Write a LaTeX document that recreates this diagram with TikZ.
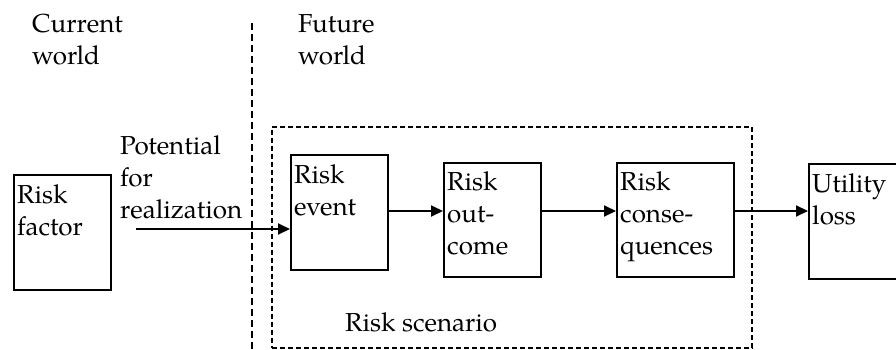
\documentclass[tikz,border=0pt]{standalone}
\usepackage{fontspec}
\setmainfont{TeX Gyre Pagella}
\usetikzlibrary{arrows.meta}

\begin{document}
\begin{tikzpicture}[x=1pt,y=1pt,
  txt/.style={inner sep=0pt, align=left, font=\fontsize{26}{32}\selectfont},
  stagebox/.style={draw, line width=2pt, inner sep=0pt},
  arr/.style={line width=1.9pt, -{Triangle[length=12pt,width=11pt]}},
  scen/.style={draw, line width=1.8pt, dash pattern=on 5pt off 3pt, inner sep=0pt},
  divider/.style={line width=1.3pt, dash pattern=on 7pt off 4pt}]
\useasboundingbox (0,0) rectangle (896,-350);
\clip (0,0) rectangle (896,-350);

% worlds and divider (base anchor = baseline of the last line)
\node[txt, anchor=base west] (cur) at (32,-65) {Current\\world};
\node[txt, anchor=base west] (fut) at (298,-65) {Future\\world};
\coordinate (vtop) at (252,-23);
\coordinate (vbot) at (252,-352);
\draw[divider] (vtop) -- (vbot);

% risk scenario frame
\node[scen, minimum width=480pt, minimum height=221pt, anchor=north west] (scenario) at (271,-126) {};
\node[txt, anchor=base west] (scenlbl) at (345,-331) {Risk scenario};

% stage boxes
\node[stagebox, minimum width=97pt, minimum height=115pt, anchor=north west] (factor) at (13,-174) {};
\node[stagebox, minimum width=97pt, minimum height=115pt, anchor=north west] (event) at (290,-154) {};
\node[stagebox, minimum width=97pt, minimum height=114pt, anchor=north west] (outcome) at (443,-162) {};
\node[stagebox, minimum width=117pt, minimum height=114pt, anchor=north west] (conseq) at (616,-162) {};
\node[stagebox, minimum width=95pt, minimum height=115pt, anchor=north west] (utility) at (808,-163) {};

% box texts, placed by the baseline of their last line
\node[txt, anchor=base west] (tfactor) at ([xshift=4pt,yshift=-61pt]factor.north west) {Risk\\factor};
\node[txt, anchor=base west] (tevent) at ([xshift=4pt,yshift=-61pt]event.north west) {Risk\\event};
\node[txt, anchor=base west] (toutcome) at ([xshift=4pt,yshift=-92pt]outcome.north west) {Risk\\out-\\come};
\node[txt, anchor=base west] (tconseq) at ([xshift=4pt,yshift=-92pt]conseq.north west) {Risk\\conse-\\quences};
\node[txt, anchor=base west] (tutility) at ([xshift=4pt,yshift=-61pt]utility.north west) {Utility\\loss};

\node[txt, anchor=base west] (potential) at (120,-218) {Potential\\for\\realization};

% connectors
\coordinate (pstart) at (136,-229);
\coordinate (flow) at (0,-211);
\draw[arr] (pstart) -- (pstart -| event.west);
\draw[arr] (event.east |- flow) -- (outcome.west |- flow);
\draw[arr] (outcome.east |- flow) -- (conseq.west |- flow);
\draw[arr] (conseq.east |- flow) -- (utility.west |- flow);
\end{tikzpicture}
\end{document}
